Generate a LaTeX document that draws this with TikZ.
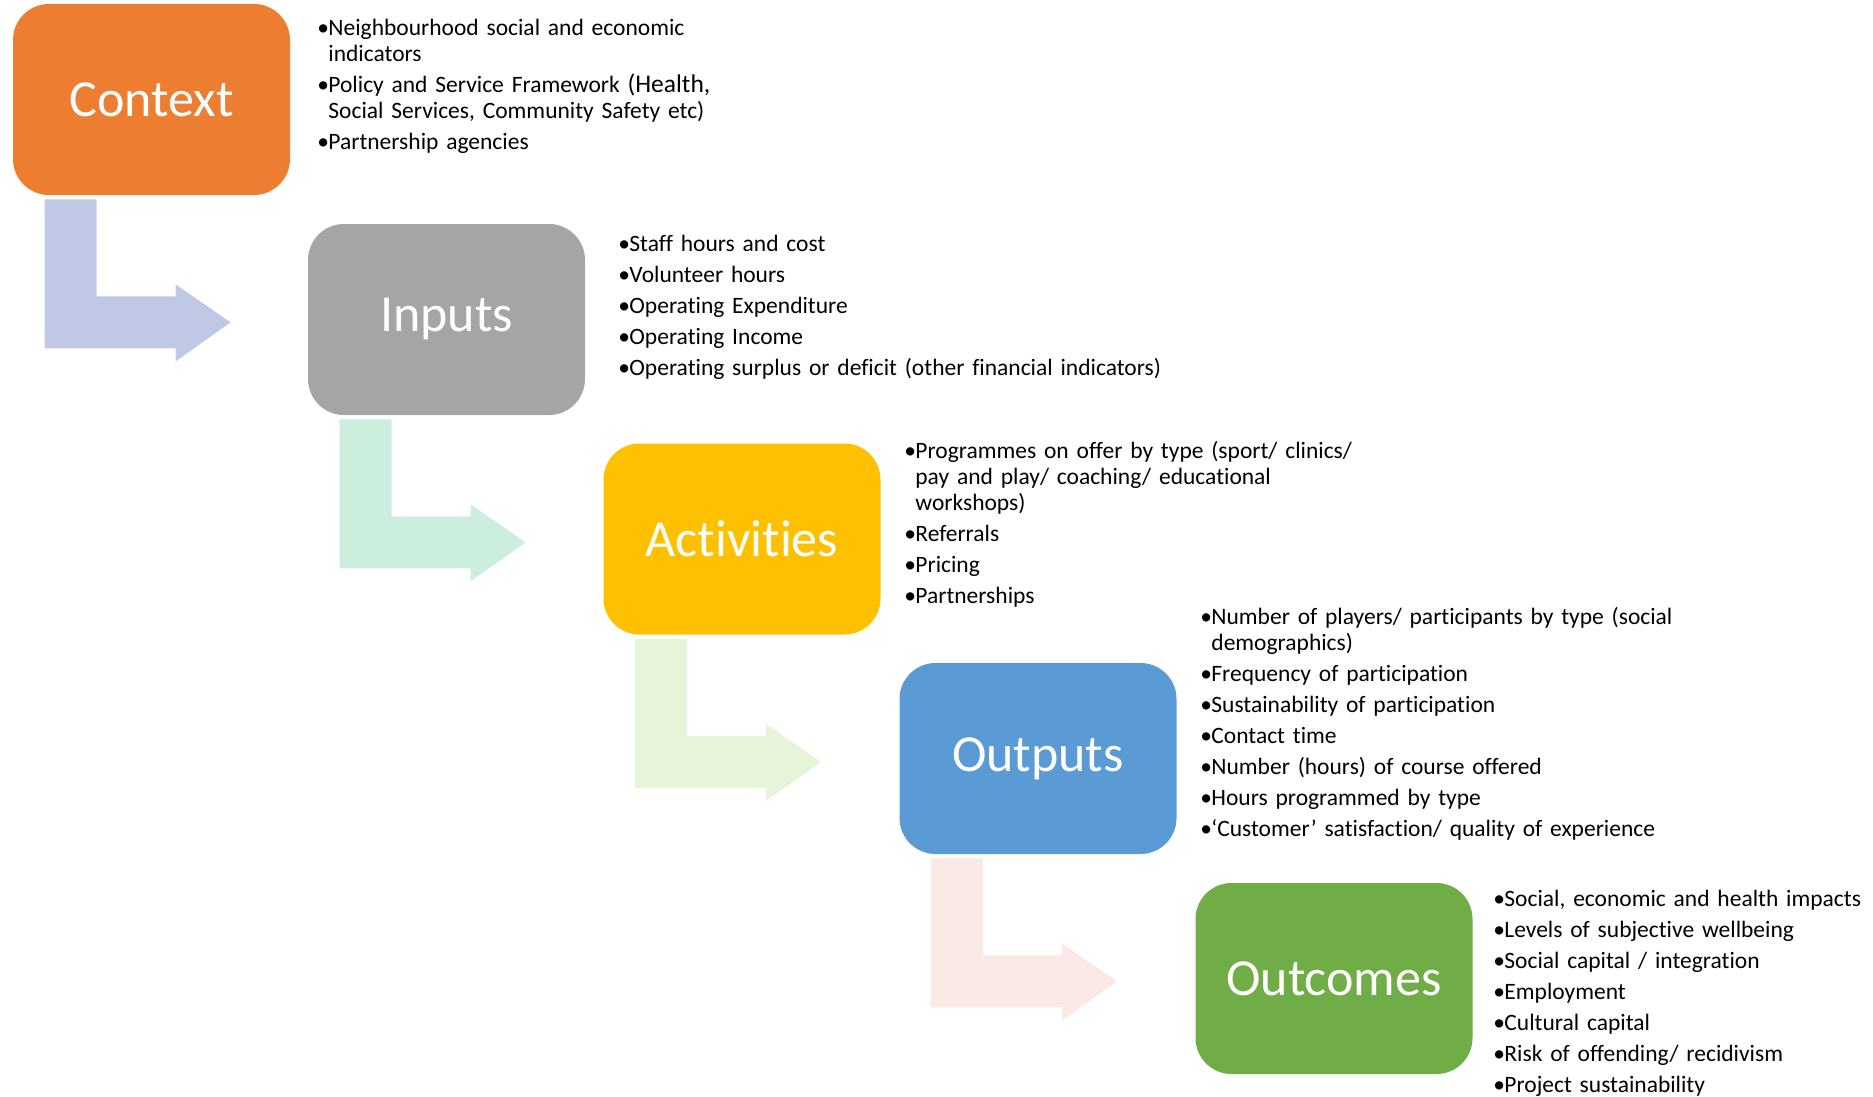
\documentclass[tikz,border=0pt]{standalone}
\usepackage{fontspec}
\setmainfont{Carlito}[Ligatures=NoCommon]
\usetikzlibrary{calc}

\definecolor{ctxorange}{HTML}{ED7D31}
\definecolor{inpgrey}{HTML}{A5A5A5}
\definecolor{actyellow}{HTML}{FFC000}
\definecolor{outblue}{HTML}{5B9BD5}
\definecolor{outcgreen}{HTML}{70AD47}
\definecolor{arrblue}{HTML}{BFC9E5}
\definecolor{arrmint}{HTML}{CBEEDE}
\definecolor{arrlime}{HTML}{E6F5D9}
\definecolor{arrpink}{HTML}{FAE9E4}

% bullet points with hanging indent
\newcommand{\bfirst}{\setlength{\parskip}{2.5pt}\hyphenpenalty=10000\hangindent=5.5pt\hangafter=1\noindent\makebox[5.5pt][l]{\textbullet}}
\newcommand{\bitem}{\par\bfirst}

% bent arrow from under one stage to the left of the next
\newcommand{\bendarrow}[2]{%
\fill [#2] ($(#1.south west)+(32,4)$) -- ++(52,0) -- ++(0,97) -- ++(79,0) -- ++(0,-12)
  -- ++(55,38) -- ++(-55,39) -- ++(0,-13) -- ++(-131,0) -- cycle;}

\begin{document}
\begin{tikzpicture}[x=0.5pt,y=-0.5pt,
  stage/.style={rounded corners=18pt, minimum width=138.5pt, minimum height=95.5pt,
    text=white, font=\fontsize{26}{30}\selectfont},
  notes/.style={anchor=base west, inner sep=0pt, text width=400pt,
    font=\fontsize{11.75}{13}\selectfont}]
\useasboundingbox (0,0) rectangle (1873,1097);
\node [stage, fill=ctxorange] (context) at (151.5,99.5) {Context};
\node [stage, fill=inpgrey] (inputs) at (446.5,319.5) {Inputs};
\node [stage, fill=actyellow] (activities) at (742,539) {Activities};
\node [stage, fill=outblue] (outputs) at (1038,758.5) {Outputs};
\node [stage, fill=outcgreen] (outcomes) at (1334,978.5) {Outcomes};
\bendarrow{context}{arrblue}
\bendarrow{inputs}{arrmint}
\bendarrow{activities}{arrlime}
\bendarrow{outputs}{arrpink}
\node [notes] (contextnotes) at (317,36) {%
\bfirst Neighbourhood social and economic\newline indicators
\bitem Policy and Service Framework {\fontsize{12.75}{13}\selectfont(Health,}\newline Social Services, Community Safety etc)
\bitem Partnership agencies};
\node [notes] (inputsnotes) at (618,251) {%
\bfirst Staff hours and cost
\bitem Volunteer hours
\bitem Operating Expenditure
\bitem Operating Income
\bitem Operating surplus or deficit (other financial indicators)};
\node [notes] (activitiesnotes) at (904,458) {%
\bfirst Programmes on offer by type (sport/ clinics/\newline pay and play/ coaching/ educational\newline workshops)
\bitem Referrals
\bitem Pricing
\bitem Partnerships};
\node [notes] (outputsnotes) at (1200,624) {%
\bfirst Number of players/ participants by type (social\newline demographics)
\bitem Frequency of participation
\bitem Sustainability of participation
\bitem Contact time
\bitem Number (hours) of course offered
\bitem Hours programmed by type
\bitem ‘Customer’ satisfaction/ quality of experience};
\node [notes] (outcomesnotes) at (1493,906) {%
\bfirst Social, economic and health impacts
\bitem Levels of subjective wellbeing
\bitem Social capital / integration
\bitem Employment
\bitem Cultural capital
\bitem Risk of offending/ recidivism
\bitem Project sustainability};
\end{tikzpicture}
\end{document}
